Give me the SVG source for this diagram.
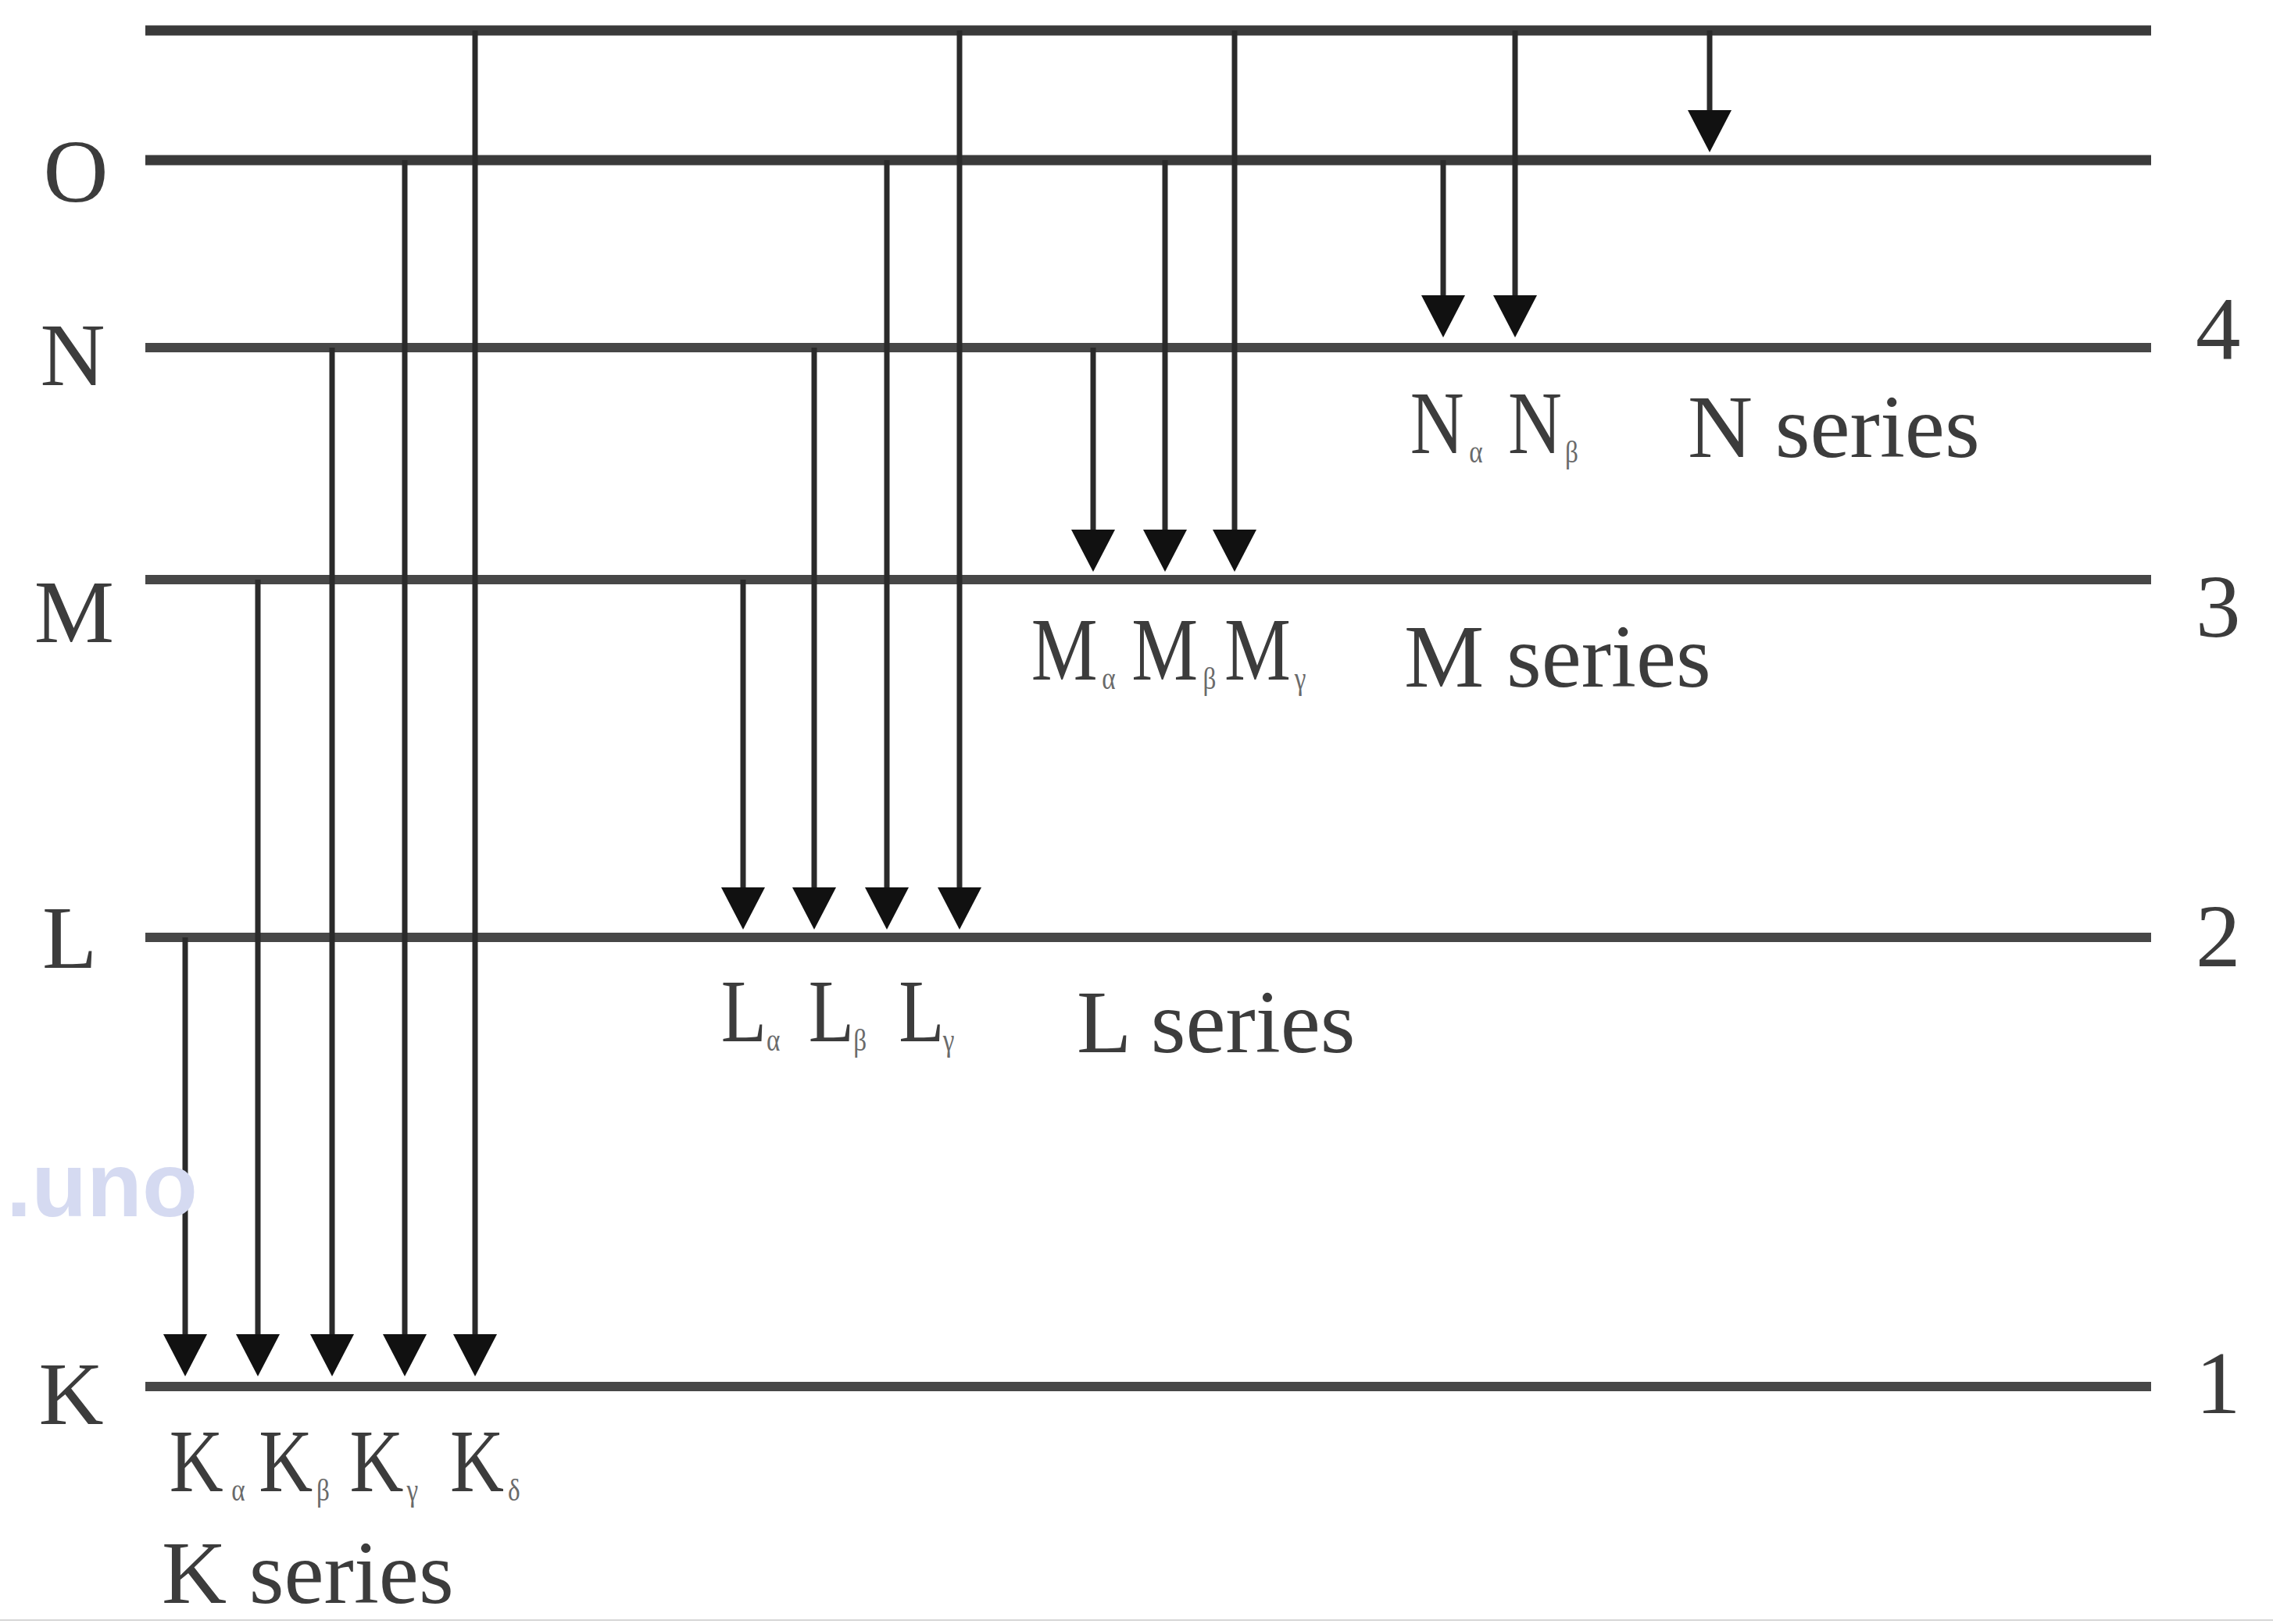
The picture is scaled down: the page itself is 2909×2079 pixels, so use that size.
<svg xmlns="http://www.w3.org/2000/svg" width="2909" height="2079" viewBox="0 0 2909 2079">
  <style>
    .lvl { stroke: #474747; stroke-width: 12; fill: none; }
    .lvl-top { stroke: #3a3a3a; stroke-width: 13; fill: none; }
    .tr { stroke: #2a2a2a; stroke-width: 7; fill: none; marker-end: url(#ah); }
    .lbl { font-family: "Liberation Serif", "Times New Roman", serif; font-size: 115px; fill: #3c3c3c; }
    .sub { font-size: 40px; fill: #6a6a6a; }
    .wm { font-family: "Liberation Sans", Arial, sans-serif; font-weight: bold; font-size: 116px; fill: #d5daf1; }
  </style>
  <defs>
    <marker id="ah" viewBox="0 -28 54 56" refX="44" refY="0" markerWidth="54" markerHeight="56" markerUnits="userSpaceOnUse" orient="auto">
      <path d="M0,-28 L54,0 L0,28 Z" fill="#111"/>
    </marker>
  </defs>
  <rect x="0" y="0" width="2909" height="2079" fill="#ffffff"/>

  <g id="level-top">
    <line class="lvl-top" x1="186" y1="39" x2="2753" y2="39"/>
  </g>
  <g id="level-O">
    <line class="lvl-top" x1="186" y1="205" x2="2753" y2="205"/>
    <text class="lbl" x="97" y="258" text-anchor="middle">O</text>
  </g>
  <g id="level-N">
    <line class="lvl" x1="186" y1="445" x2="2753" y2="445"/>
    <text class="lbl" x="93" y="493" text-anchor="middle">N</text>
    <text class="lbl" x="2810" y="460">4</text>
  </g>
  <g id="level-M">
    <line class="lvl" x1="186" y1="742" x2="2753" y2="742"/>
    <text class="lbl" x="95" y="822" text-anchor="middle">M</text>
    <text class="lbl" x="2810" y="815">3</text>
  </g>
  <g id="level-L">
    <line class="lvl" x1="186" y1="1200" x2="2753" y2="1200"/>
    <text class="lbl" x="89" y="1239" text-anchor="middle">L</text>
    <text class="lbl" x="2810" y="1237">2</text>
  </g>
  <g id="level-K">
    <line class="lvl" x1="186" y1="1775" x2="2753" y2="1775"/>
    <text class="lbl" x="91" y="1823" text-anchor="middle">K</text>
    <text class="lbl" x="2810" y="1809">1</text>
  </g>

  <g id="connectors">
    <line class="tr" x1="237" y1="1200" x2="237" y2="1752"/>
    <line class="tr" x1="330" y1="742" x2="330" y2="1752"/>
    <line class="tr" x1="425" y1="445" x2="425" y2="1752"/>
    <line class="tr" x1="518" y1="205" x2="518" y2="1752"/>
    <line class="tr" x1="608" y1="39" x2="608" y2="1752"/>

    <line class="tr" x1="951" y1="742" x2="951" y2="1180"/>
    <line class="tr" x1="1042" y1="445" x2="1042" y2="1180"/>
    <line class="tr" x1="1135" y1="205" x2="1135" y2="1180"/>
    <line class="tr" x1="1228" y1="39" x2="1228" y2="1180"/>

    <line class="tr" x1="1399" y1="445" x2="1399" y2="722"/>
    <line class="tr" x1="1491" y1="205" x2="1491" y2="722"/>
    <line class="tr" x1="1580" y1="39" x2="1580" y2="722"/>

    <line class="tr" x1="1847" y1="205" x2="1847" y2="422"/>
    <line class="tr" x1="1939" y1="39" x2="1939" y2="422"/>

    <line class="tr" x1="2188" y1="39" x2="2188" y2="185"/>
  </g>

  <g id="series-N">
    <text class="lbl" transform="translate(1803,580) scale(0.83,1)"><tspan x="2">N</tspan><tspan class="sub" x="93" dy="12">α</tspan><tspan x="153" dy="-12">N</tspan><tspan class="sub" x="241" dy="12">β</tspan></text>
    <text class="lbl" x="2160" y="585">N series</text>
  </g>
  <g id="series-M">
    <text class="lbl" transform="translate(1318,870) scale(0.83,1)"><tspan x="2">M</tspan><tspan class="sub" x="111" dy="12">α</tspan><tspan x="157" dy="-12">M</tspan><tspan class="sub" x="267" dy="12">β</tspan><tspan x="300" dy="-12">M</tspan><tspan class="sub" x="408" dy="12">γ</tspan></text>
    <text class="lbl" x="1797" y="879">M series</text>
  </g>
  <g id="series-L">
    <text class="lbl" transform="translate(922,1333) scale(0.83,1)"><tspan x="1">L</tspan><tspan class="sub" x="71" dy="12">α</tspan><tspan x="136" dy="-12">L</tspan><tspan class="sub" x="205" dy="12">β</tspan><tspan x="275" dy="-12">L</tspan><tspan class="sub" x="343" dy="12">γ</tspan></text>
    <text class="lbl" x="1378" y="1347">L series</text>
  </g>
  <g id="series-K">
    <text class="lbl" transform="translate(215,1909) scale(0.83,1)"><tspan x="2">K</tspan><tspan class="sub" x="98" dy="12">α</tspan><tspan x="140" dy="-12">K</tspan><tspan class="sub" x="229" dy="12">β</tspan><tspan x="280" dy="-12">K</tspan><tspan class="sub" x="368" dy="12">γ</tspan><tspan x="435" dy="-12">K</tspan><tspan class="sub" x="524" dy="12">δ</tspan></text>
    <text class="lbl" x="207" y="2052" font-size="110">K series</text>
  </g>

  <text class="wm" x="8" y="1557">.uno</text>
  <line x1="0" y1="2074" x2="2909" y2="2074" stroke="#d6d6d6" stroke-width="2"/>
</svg>
